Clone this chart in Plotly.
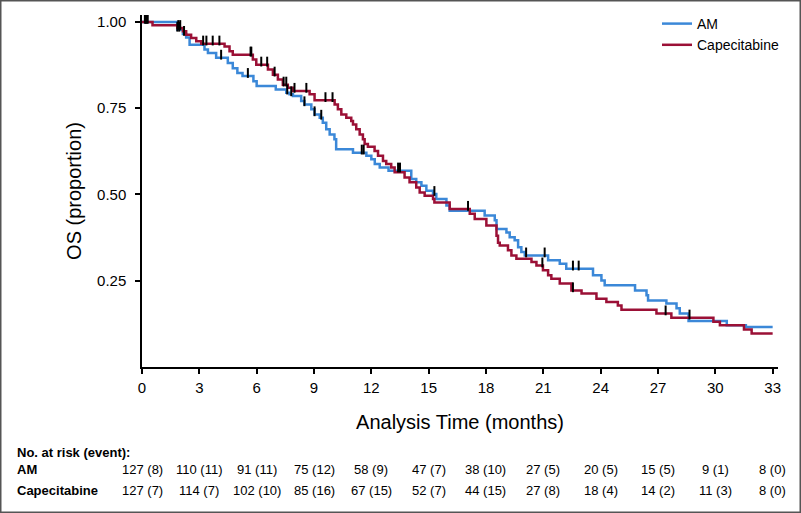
import numpy as np
import plotly.graph_objects as go

# ---------------- data ----------------
follow_up_end = 33

am_time = [0, 1.85, 2.14, 2.31, 2.49, 3.27, 3.45, 3.88, 4.49, 4.75, 4.99, 5.26, 5.83, 6.0, 7.0,
           7.55, 7.72, 7.9, 8.33, 8.5, 8.86, 9.03, 9.3, 9.46, 9.64, 9.82, 10.07, 10.16, 11.04, 11.74,
           12.0, 12.18, 12.44, 12.9, 14.09, 14.35, 14.62, 14.88, 15.23, 15.4, 15.93, 16.1, 17.93, 18.46,
           18.55, 19.07, 19.24, 19.5, 19.68, 19.85, 20.03, 21.25, 21.86, 22.2, 23.6, 24.04, 24.21, 25.8,
           26.4, 26.48, 27.44, 27.97, 28.14, 28.6, 30.6, 31.6]
am_surv = [1.0, 0.977, 0.965, 0.955, 0.934, 0.92, 0.91, 0.896, 0.881, 0.866, 0.852, 0.843, 0.828, 0.814, 0.804,
           0.795, 0.79, 0.785, 0.771, 0.761, 0.747, 0.732, 0.722, 0.708, 0.689, 0.674, 0.66, 0.631, 0.621, 0.612,
           0.602, 0.588, 0.578, 0.569, 0.545, 0.535, 0.525, 0.511, 0.501, 0.487, 0.468, 0.453, 0.439, 0.425,
           0.40, 0.39, 0.376, 0.367, 0.347, 0.333, 0.323, 0.309, 0.299, 0.285, 0.266, 0.251, 0.237, 0.222,
           0.208, 0.193, 0.184, 0.17, 0.155, 0.133, 0.121, 0.116]
am_censor = [0.15, 0.25, 1.85, 1.95, 2.2, 4.14, 5.54, 7.6, 7.81, 8.5, 9.03, 9.38, 11.5, 11.6, 13.4, 13.5,
             15.3, 20.1, 21.07, 22.55, 22.85]

cap_time = [0, 0.55, 1.85, 2.14, 2.31, 2.57, 2.84, 3.1, 4.32, 4.58, 4.75, 5.8, 5.98, 6.59, 6.85, 7.11, 7.37,
            7.63, 7.9, 8.77, 9.03, 10.08, 10.25, 10.43, 10.69, 10.95, 11.04, 11.21, 11.39, 11.56, 11.65,
            11.82, 12.17, 12.35, 12.61, 12.78, 13.04, 13.22, 13.74, 14.0, 14.35, 14.53, 14.79, 15.23, 15.3,
            16.1, 17.15, 17.41, 18.02, 18.55, 18.63, 18.72, 19.15, 19.33, 19.59, 20.38, 20.64, 20.98, 21.25,
            21.42, 21.86, 22.47, 23.0, 23.78, 24.3, 24.9, 25.09, 26.92, 27.7, 29.9, 30.24, 31.5, 31.9]
cap_surv = [1.0, 0.99, 0.982, 0.973, 0.963, 0.953, 0.944, 0.937, 0.929, 0.915, 0.905, 0.891, 0.876, 0.862,
            0.847, 0.833, 0.818, 0.809, 0.80, 0.79, 0.773, 0.761, 0.747, 0.732, 0.722, 0.713, 0.703, 0.689,
            0.674, 0.66, 0.646, 0.638, 0.626, 0.612, 0.597, 0.588, 0.578, 0.564, 0.549, 0.535, 0.52, 0.506,
            0.496, 0.487, 0.477, 0.458, 0.444, 0.429, 0.41, 0.38, 0.36, 0.352, 0.338, 0.323, 0.314, 0.304,
            0.294, 0.28, 0.266, 0.256, 0.242, 0.222, 0.213, 0.198, 0.188, 0.178, 0.166, 0.155, 0.143, 0.131,
            0.121, 0.109, 0.097]
cap_censor = [0.2, 0.3, 1.9, 2.0, 3.2, 3.37, 3.7, 4.05, 5.68, 5.72, 6.24, 6.55, 6.94, 7.41, 7.55, 7.98,
              8.6, 9.6, 9.97, 17.06, 20.95, 22.55, 27.4, 28.65]

risk_times = [0, 3, 6, 9, 12, 15, 18, 21, 24, 27, 30, 33]
am_risk = ["127 (8)", "110 (11)", "91 (11)", "75 (12)", "58 (9)", "47 (7)", "38 (10)",
           "27 (5)", "20 (5)", "15 (5)", "9 (1)", "8 (0)"]
cap_risk = ["127 (7)", "114 (7)", "102 (10)", "85 (16)", "67 (15)", "52 (7)", "44 (15)",
            "27 (8)", "18 (4)", "14 (2)", "11 (3)", "8 (0)"]

x_ticks = [0, 3, 6, 9, 12, 15, 18, 21, 24, 27, 30, 33]
y_ticks = [0.25, 0.50, 0.75, 1.00]
y_ticktext = ["0.25", "0.50", "0.75", "1.00"]

AM_COLOR = "#3b88d8"
CAP_COLOR = "#9b1036"
FONT = "Liberation Sans, Arial, sans-serif"


def step_value(times, surv, t):
    idx = np.searchsorted(np.asarray(times), t, side="right") - 1
    return float(np.asarray(surv)[idx])


fig = go.Figure()
for name, tt, ss, col in [("AM", am_time, am_surv, AM_COLOR),
                          ("Capecitabine", cap_time, cap_surv, CAP_COLOR)]:
    fig.add_trace(go.Scatter(x=list(tt) + [follow_up_end], y=list(ss) + [ss[-1]], mode="lines",
                             line=dict(color=col, width=2.5, shape="hv"), name=name))
for tt, ss, cens in [(am_time, am_surv, am_censor), (cap_time, cap_surv, cap_censor)]:
    cy = [step_value(tt, ss, c) + 0.009 for c in cens]
    fig.add_trace(go.Scatter(x=cens, y=cy, mode="markers", showlegend=False, hoverinfo="skip",
                             marker=dict(symbol="line-ns", size=7,
                                         line=dict(color="black", width=2))))

# plot-area geometry (px)
L, R, T, B = 142, 23, 15, 146
W, H = 801, 513
pw, ph = W - L - R, H - T - B


def py(p):  # pixel y -> paper y
    return (H - B - p) / ph


def px(p):  # pixel x -> paper x
    return (p - L) / pw


ann = [dict(text="<b>No. at risk (event):</b>", xref="paper", yref="paper", x=px(15), y=py(452),
            xanchor="left", yanchor="middle", showarrow=False, font=dict(size=13, color="black")),
       dict(text="<b>AM</b>", xref="paper", yref="paper", x=px(15), y=py(470),
            xanchor="left", yanchor="middle", showarrow=False, font=dict(size=13, color="black")),
       dict(text="<b>Capecitabine</b>", xref="paper", yref="paper", x=px(15), y=py(490),
            xanchor="left", yanchor="middle", showarrow=False, font=dict(size=13, color="black"))]
for t, a, c in zip(risk_times, am_risk, cap_risk):
    ann.append(dict(text=a, xref="x", yref="paper", x=t, y=py(470), xanchor="center", yanchor="middle",
                    showarrow=False, font=dict(size=13, color="black")))
    ann.append(dict(text=c, xref="x", yref="paper", x=t, y=py(490), xanchor="center", yanchor="middle",
                    showarrow=False, font=dict(size=13, color="black")))

fig.update_layout(
    width=W, height=H, margin=dict(l=L, r=R, t=T, b=B, pad=0, autoexpand=False),
    plot_bgcolor="white", paper_bgcolor="white",
    font=dict(family=FONT, color="black"),
    xaxis=dict(range=[0, 33.28], tickvals=x_ticks, ticks="outside", ticklen=5, tickwidth=1.5,
               tickcolor="black", showline=True, linecolor="black", linewidth=1.5, showgrid=False,
               zeroline=False, tickfont=dict(size=15), ticklabelstandoff=1,
               title=dict(text="Analysis Time (months)", font=dict(size=20), standoff=20)),
    yaxis=dict(range=[0, 1.02], tickvals=y_ticks, ticktext=y_ticktext, ticks="outside", ticklen=5,
               tickwidth=1.5, tickcolor="black", showline=True, linecolor="black", linewidth=1.5,
               showgrid=False, zeroline=False, tickfont=dict(size=15), ticklabelstandoff=6,
               title=dict(text="OS (proportion)", font=dict(size=20), standoff=10)),
    legend=dict(x=px(657), y=py(8), xanchor="left", yanchor="top", font=dict(size=14),
                bgcolor="rgba(0,0,0,0)", itemwidth=30, tracegroupgap=0),
    annotations=ann,
    shapes=[dict(type="rect", xref="paper", yref="paper", x0=px(0.75), x1=px(800.25),
                 y0=py(512.25), y1=py(0.75), line=dict(color="#555555", width=1.5), layer="above")],
)

fig.write_html("out.html", config={"displayModeBar": False},
               post_script="document.body.style.margin='0';")
